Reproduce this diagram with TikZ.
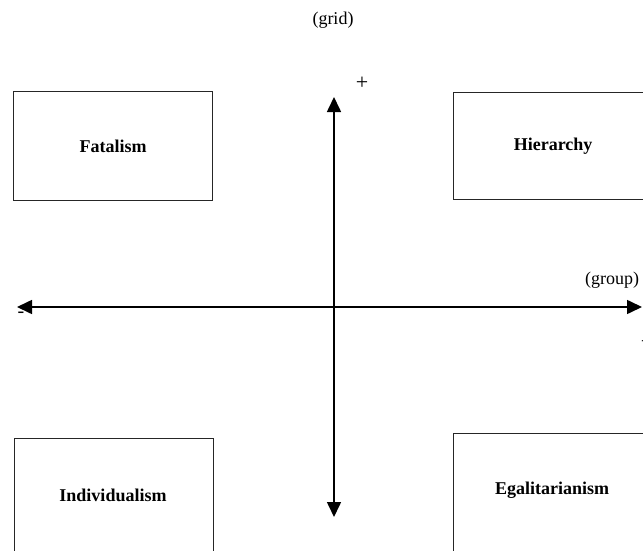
\documentclass[tikz,border=0pt]{standalone}
\usepackage{fontspec}
\setmainfont{Liberation Serif}
\usetikzlibrary{arrows.meta}
\begin{document}
\begin{tikzpicture}[x=1pt,y=-1pt,
  box/.style={draw=black!85, line width=1.2pt, minimum width=199pt, inner sep=0pt, anchor=north west},
  lab/.style={font=\fontsize{18}{21}\selectfont\bfseries, inner sep=0pt},
  txt/.style={font=\fontsize{18}{21}\selectfont, inner sep=0pt},
  axis/.style={line width=1.6pt, {Triangle[length=15pt,width=14pt]}-{Triangle[length=15pt,width=14pt]}}]
\useasboundingbox (0,0) rectangle (643,551);
% boxes
\node[box, minimum height=109pt] (fat) at (13,91) {};
\node[lab] (fatt) at (fat.center) {Fatalism};
\node[box, minimum height=107pt] (hier) at (453,92) {};
\node[lab] (hiert) at (hier.center) {Hierarchy};
\node[box, minimum height=130pt] (indiv) at (14,438) {};
\node[lab] (indivt) at ([xshift=99pt,yshift=-57pt]indiv.north west) {Individualism};
\node[box, minimum height=130pt] (egal) at (453,433) {};
\node[lab] (egalt) at ([xshift=99pt,yshift=-57pt]egal.north west) {Egalitarianism};
% axes
\coordinate (top) at (334,97);
\coordinate (bot) at (334,517);
\coordinate (left) at (17,307);
\coordinate (right) at (642,307);
\draw[axis] (bot) -- (top);
\draw[axis] (left) -- (right);
% labels
\node[txt] (grid) at (333,20) {(grid)};
\node[txt] (group) at (612,280) {(group)};
\node[txt, font=\fontsize{22}{24}\selectfont] (plustop) at (362,83) {+};
\node[txt, font=\fontsize{20}{22}\selectfont] (minus) at (21,315) {-};
\node[txt, font=\fontsize{22}{24}\selectfont] (plusright) at (647,342) {+};
\end{tikzpicture}
\end{document}
